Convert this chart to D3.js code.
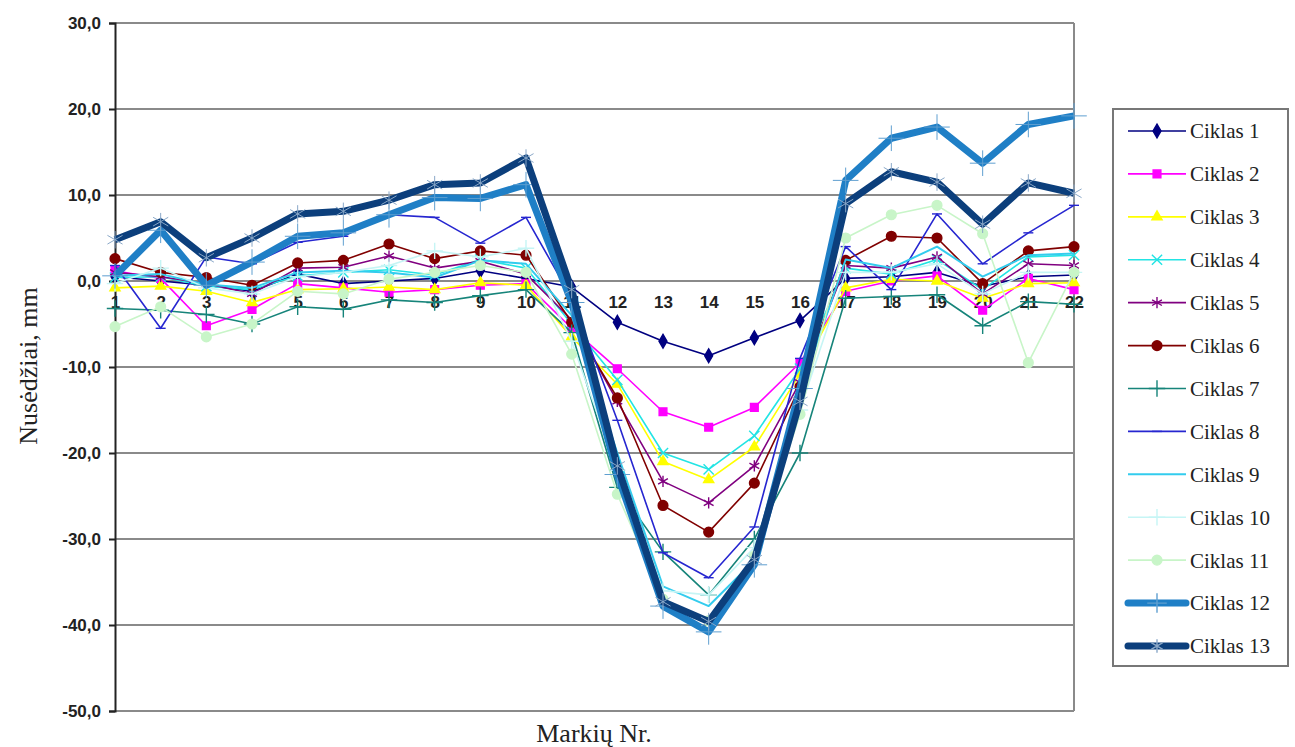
<!DOCTYPE html>
<html>
<head>
<meta charset="utf-8">
<script src="https://cdn.jsdelivr.net/npm/d3@7"></script>
<style>
  body { margin: 0; background: #fff; }
  svg { display: block; }
</style>
</head>
<body>
<svg id="chart" width="1295" height="747"></svg>
<script>
// markiu numeriai
const markers = d3.range(1, 23).map(String);
const yTicks = [-50, -40, -30, -20, -10, 0, 10, 20, 30];

// nusedziai (mm)
const ciklas1 = [0.5, 0.0, -0.5, -1.2, 0.8, -0.3, 0.0, 0.3, 1.2, 0.3, -0.7, -4.8, -7.0, -8.7, -6.6, -4.6, 0.3, 0.5, 1.0, -0.6, 0.5, 0.7];
const ciklas2 = [1.2, 0.3, -5.2, -3.3, -0.3, -0.8, -1.3, -1.0, -0.5, -0.3, -5.5, -10.2, -15.2, -17.0, -14.7, -9.5, -1.2, 0.0, 0.6, -3.4, 0.3, -1.0];
const ciklas3 = [-0.8, -0.6, -1.2, -2.5, -1.0, -0.9, -0.7, -1.0, -0.2, -0.5, -6.5, -12.0, -21.0, -23.1, -19.3, -10.8, -0.8, 0.2, 0.0, -2.0, -0.3, -0.2];
const ciklas4 = [0.4, 0.5, -0.6, -1.0, 0.6, 1.0, 1.3, 0.7, 2.5, 1.5, -5.0, -11.5, -20.0, -21.9, -18.0, -10.2, 1.5, 0.8, 2.5, -1.0, 2.8, 3.0];
const ciklas5 = [1.0, 0.5, -0.3, -1.5, 1.5, 1.6, 2.9, 1.5, 2.3, 0.8, -4.5, -14.0, -23.3, -25.8, -21.5, -11.8, 1.8, 1.5, 2.8, -1.5, 2.0, 1.8];
const ciklas6 = [2.6, 1.0, 0.4, -0.5, 2.1, 2.4, 4.3, 2.6, 3.5, 3.0, -4.8, -13.6, -26.1, -29.2, -23.5, -12.3, 2.4, 5.2, 5.0, -0.3, 3.5, 4.0];
const ciklas7 = [-3.2, -3.4, -3.9, -5.0, -3.0, -3.3, -2.2, -2.5, -1.7, -1.0, -6.0, -24.0, -31.5, -36.5, -30.0, -20.0, -2.0, -1.8, -1.6, -5.2, -2.4, -2.7];
const ciklas8 = [1.8, -5.5, 2.8, 2.0, 4.5, 5.2, 7.7, 7.4, 4.4, 7.4, -2.0, -16.2, -31.6, -34.5, -28.6, -9.0, 4.0, -1.0, 7.8, 2.0, 5.6, 8.8];
const ciklas9 = [0.6, 0.8, -0.4, -0.8, 1.0, 1.2, 1.0, 0.4, 2.4, 2.0, -4.0, -20.0, -35.5, -37.8, -32.5, -13.0, 2.5, 1.5, 4.0, 0.5, 3.0, 3.2];
const ciklas10 = [-0.3, 1.5, -0.8, -1.5, 0.5, 1.0, 1.8, 3.5, 2.8, 3.8, -7.0, -22.0, -36.0, -36.5, -31.0, -15.0, 1.0, 1.0, 2.0, -1.5, 1.0, 1.0];
const ciklas11 = [-5.3, -3.0, -6.5, -5.0, -1.2, -1.5, 0.2, 1.0, 1.8, 1.0, -8.5, -24.8, -37.0, -39.5, -32.0, -15.5, 5.0, 7.7, 8.8, 5.5, -9.5, 1.0];
const ciklas12 = [0.6, 5.9, -0.5, 2.2, 5.2, 5.6, 7.7, 9.7, 9.6, 11.2, -2.5, -22.5, -37.8, -40.8, -33.0, -12.5, 11.7, 16.6, 17.9, 13.7, 18.2, 19.2];
const ciklas13 = [4.8, 6.9, 2.7, 5.0, 7.8, 8.1, 9.4, 11.2, 11.4, 14.3, -1.0, -21.5, -37.3, -39.6, -32.4, -14.0, 9.0, 12.7, 11.5, 6.6, 11.4, 10.2];

const seriesNames = d3.range(1, 14).map(i => `Ciklas ${i}`);
const seriesValues = [ciklas1, ciklas2, ciklas3, ciklas4, ciklas5, ciklas6, ciklas7,
  ciklas8, ciklas9, ciklas10, ciklas11, ciklas12, ciklas13];

// look of each cycle (Excel-ish defaults)
const styles = [
  { color: '#000080', width: 1.6, sym: 'diamond', fill: true },
  { color: '#ff00ff', width: 1.6, sym: 'square', fill: true },
  { color: '#ffff00', width: 1.6, sym: 'triangle', fill: true },
  { color: '#22e4e4', width: 1.6, sym: 'times', fill: false },
  { color: '#800080', width: 1.6, sym: 'asterisk', fill: false },
  { color: '#800000', width: 1.6, sym: 'circle', fill: true },
  { color: '#16847a', width: 1.6, sym: 'plus', fill: false },
  { color: '#2626d0', width: 1.6, sym: 'dash', fill: false },
  { color: '#33ccee', width: 2.0, sym: null, fill: false },
  { color: '#c6f5f5', width: 1.6, sym: 'plus', fill: false },
  { color: '#c8f5c8', width: 1.6, sym: 'circle', fill: true },
  { color: '#1f7fc6', width: 7, sym: 'plus', fill: false, markColor: '#5f9fd0' },
  { color: '#0c3f7c', width: 7, sym: 'asterisk', fill: false, markColor: '#8aa8c8' }
];

const svg = d3.select('#chart');
const area = { left: 115, right: 1074, top: 23, bottom: 711 };

const x = d3.scalePoint().domain(markers).range([area.left, area.right]);
const y = d3.scaleLinear().domain([-50, 30]).range([area.bottom, area.top]);

// grid
svg.append('g')
  .selectAll('line')
  .data(yTicks)
  .join('line')
  .attr('x1', area.left).attr('x2', area.right)
  .attr('y1', d => y(d)).attr('y2', d => y(d))
  .attr('stroke', '#8a8a8a').attr('stroke-width', 2);

// right border
svg.append('line')
  .attr('x1', area.right).attr('x2', area.right)
  .attr('y1', area.top).attr('y2', area.bottom)
  .attr('stroke', '#8a8a8a').attr('stroke-width', 2);

// y axis
const yAxis = svg.append('g')
  .attr('transform', `translate(${area.left},0)`)
  .call(d3.axisLeft(y).tickValues(yTicks).tickSize(6).tickPadding(8)
    .tickFormat(d => d.toFixed(1).replace('.', ',')));
yAxis.select('.domain').attr('stroke', '#222').attr('stroke-width', 2);
yAxis.selectAll('.tick line').attr('stroke', '#222').attr('stroke-width', 2);
yAxis.selectAll('text')
  .attr('font-family', 'Liberation Sans, Arial, sans-serif')
  .attr('font-weight', 'bold')
  .attr('font-size', 17)
  .attr('fill', '#222');

// category labels sit on the zero line
const xAxis = svg.append('g')
  .attr('transform', `translate(0,${y(0)})`)
  .call(d3.axisBottom(x).tickSize(0).tickPadding(15));
xAxis.select('.domain').remove();
xAxis.selectAll('text')
  .attr('font-family', 'Liberation Sans, Arial, sans-serif')
  .attr('font-weight', 'bold')
  .attr('font-size', 17)
  .attr('fill', '#222');

const symbolPath = (sym, size) => {
  if (sym === 'dash') return `M${-size / 2},0H${size / 2}`;
  const types = {
    diamond: d3.symbolDiamond,
    square: d3.symbolSquare,
    triangle: d3.symbolTriangle,
    circle: d3.symbolCircle,
    times: d3.symbolTimes,
    plus: d3.symbolPlus,
    asterisk: d3.symbolAsterisk
  };
  const area2 = { diamond: 55, square: 60, triangle: 45, circle: 75, times: 70, plus: 90, asterisk: 90 };
  return d3.symbol(types[sym], area2[sym] * size / 10)();
};

const line = d3.line()
  .x((d, i) => x(markers[i]))
  .y(d => y(d));

const plot = svg.append('g');
seriesValues.forEach((vals, s) => {
  const st = styles[s];
  const g = plot.append('g');
  g.append('path')
    .datum(vals)
    .attr('d', line)
    .attr('fill', 'none')
    .attr('stroke', st.color)
    .attr('stroke-width', st.width)
    .attr('stroke-linejoin', 'round');
  if (st.sym) {
    const big = st.width > 3;
    g.selectAll('path.mk')
      .data(vals)
      .join('path')
      .attr('class', 'mk')
      .attr('transform', (d, i) => `translate(${x(markers[i])},${y(d)})`)
      .attr('d', symbolPath(st.sym, big ? 24 : 10))
      .attr('fill', st.fill ? st.color : 'none')
      .attr('stroke', st.markColor || st.color)
      .attr('stroke-width', big ? 1 : 1.4);
  }
});

// axis titles
svg.append('text')
  .attr('transform', `translate(37,366) rotate(-90)`)
  .attr('text-anchor', 'middle')
  .attr('font-family', 'Liberation Serif, Times New Roman, serif')
  .attr('font-size', 26)
  .attr('fill', '#222')
  .text('Nusėdžiai, mm');

svg.append('text')
  .attr('x', 594).attr('y', 742)
  .attr('text-anchor', 'middle')
  .attr('font-family', 'Liberation Serif, Times New Roman, serif')
  .attr('font-size', 26)
  .attr('fill', '#222')
  .text('Markių Nr.');

// legend
const legend = svg.append('g');
legend.append('rect')
  .attr('x', 1113).attr('y', 109)
  .attr('width', 175).attr('height', 557)
  .attr('fill', '#fff')
  .attr('stroke', '#777').attr('stroke-width', 2);

const legendY = d3.scalePoint().domain(seriesNames).range([131, 646]);
seriesNames.forEach((name, s) => {
  const st = styles[s];
  const cy = legendY(name);
  const row = legend.append('g').attr('transform', `translate(0,${cy})`);
  row.append('line')
    .attr('x1', 1128).attr('x2', 1186)
    .attr('stroke', st.color)
    .attr('stroke-width', st.width)
    .attr('stroke-linecap', st.width > 3 ? 'round' : 'butt');
  if (st.sym) {
    const big = st.width > 3;
    row.append('path')
      .attr('transform', 'translate(1157,0)')
      .attr('d', symbolPath(st.sym, big ? 14 : 10))
      .attr('fill', st.fill ? st.color : 'none')
      .attr('stroke', st.markColor || st.color)
      .attr('stroke-width', 1.4);
  }
  row.append('text')
    .attr('x', 1190).attr('y', 0)
    .attr('dy', '0.35em')
    .attr('font-family', 'Liberation Serif, Times New Roman, serif')
    .attr('font-size', 21)
    .attr('fill', '#222')
    .text(name);
});
</script>
</body>
</html>
